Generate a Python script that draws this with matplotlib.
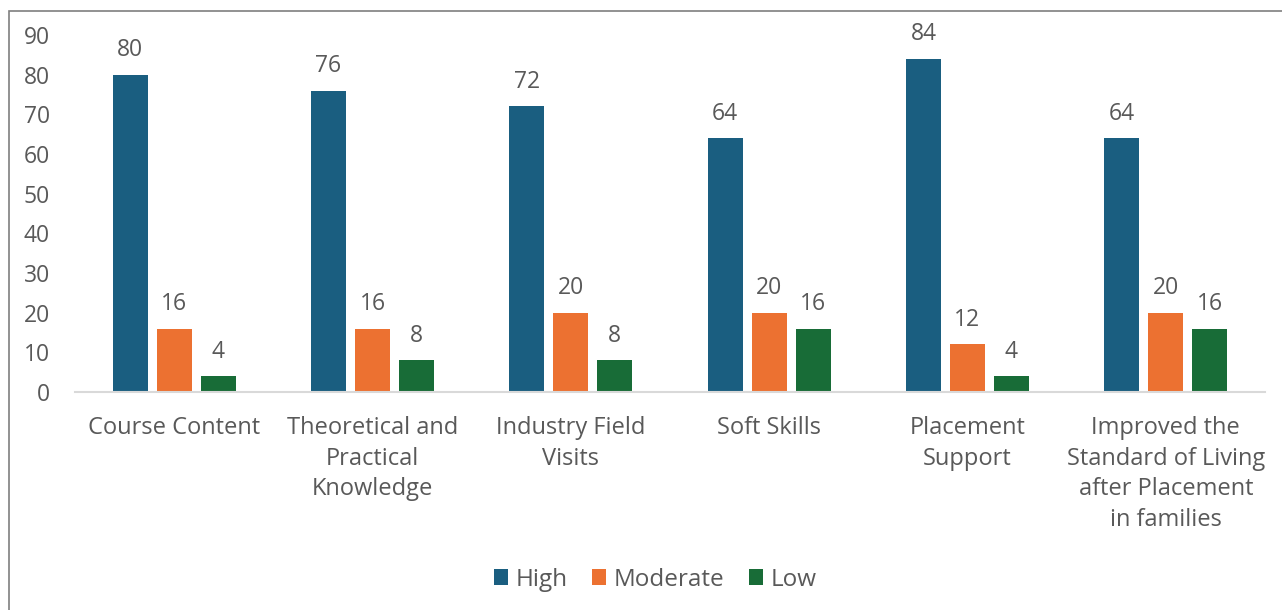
import numpy as np
import matplotlib.pyplot as plt
from matplotlib.patches import Rectangle

# Survey responses (%) per aspect
categories = ["Course Content", "Theoretical and\nPractical\nKnowledge", "Industry Field\nVisits",
              "Soft Skills", "Placement\nSupport",
              "Improved the\nStandard of Living\nafter Placement\nin families"]
high = [80, 76, 72, 64, 84, 64]
moderate = [16, 16, 20, 20, 12, 20]
low = [4, 8, 8, 16, 4, 16]
series_names = ["High", "Moderate", "Low"]

colors = ["#1a5e80", "#ec7131", "#186c37"]
text_col = "#595959"

plt.rcParams["font.family"] = ["Open Sans", "DejaVu Sans"]

fig = plt.figure(figsize=(12.82, 6.10), dpi=100)
ax = fig.add_axes([0.0585, 0.3574, 0.9282, 0.5852])

x = np.arange(len(categories))
w = 0.177
step = 0.222
for i, (vals, name) in enumerate(zip([high, moderate, low], series_names)):
    bars = ax.bar(x + (i - 1) * step, vals, width=w, color=colors[i], label=name)
    ax.bar_label(bars, padding=9, fontsize=16.5, color=text_col)

ax.set_xlim(-0.5, len(categories) - 0.5)
ax.set_ylim(0, 90)
ax.set_yticks(range(0, 91, 10))
ax.set_xticks(x)
ax.set_xticklabels(categories, linespacing=1.36)
ax.tick_params(axis="y", length=0, pad=18, labelsize=16.5, labelcolor=text_col)
ax.tick_params(axis="x", length=0, pad=17.5, labelsize=17, labelcolor=text_col)
for s in ["top", "right", "left"]:
    ax.spines[s].set_visible(False)
ax.spines["bottom"].set_color("#d9d9d9")
ax.spines["bottom"].set_linewidth(1.5)

leg = fig.legend(loc="center", bbox_to_anchor=(0.511, 0.05), ncol=3, frameon=False,
                 fontsize=17.5, handlelength=0.6, handleheight=0.6, handletextpad=0.3,
                 columnspacing=1.0)
for t in leg.get_texts():
    t.set_color(text_col)

# outer chart border (left and top visible)
fig.patches.append(Rectangle((9 / 1282, -0.05), 1.2, 599 / 610 + 0.05,
                             transform=fig.transFigure, fill=False,
                             edgecolor="#7f7f7f", linewidth=1.2))

fig.savefig("out.png", dpi=100)
